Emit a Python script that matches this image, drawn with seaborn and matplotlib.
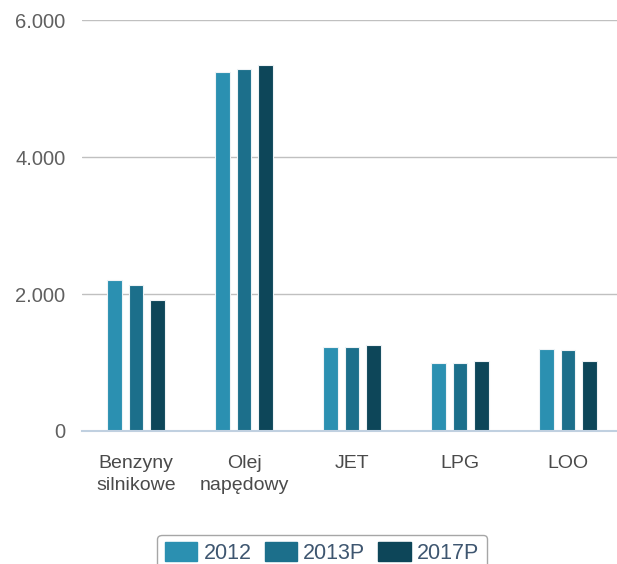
import matplotlib
matplotlib.use("Agg")
import matplotlib.pyplot as plt
import matplotlib.ticker as mticker
from matplotlib.patches import Patch
import pandas as pd
import seaborn as sns

# data
categories = ["Benzyny\nsilnikowe", "Olej\nnapędowy", "JET", "LPG", "LOO"]
series = ["2012", "2013P", "2017P"]
v2012 = [2200, 5240, 1230, 1000, 1200]
v2013p = [2130, 5285, 1230, 1000, 1180]
v2017p = [1910, 5345, 1260, 1015, 1015]
colors = ["#2b90b1", "#1c6f8b", "#0d4659"]

df = pd.DataFrame({
    "cat": categories * 3,
    "year": [s for s in series for _ in categories],
    "val": v2012 + v2013p + v2017p,
})

sns.set_style("white")
plt.rcParams["font.family"] = ["Liberation Sans", "DejaVu Sans"]

fig = plt.figure(figsize=(6.17, 5.64), dpi=100)
ax = fig.add_axes([82 / 617, 1 - 431 / 564, 540 / 617, 411 / 564])

sns.barplot(data=df, x="cat", y="val", hue="year", palette=colors, saturation=1,
            width=0.6, gap=0.32, edgecolor="#eef3f6", linewidth=0.8,
            ax=ax, legend=False, zorder=3)

ax.set_ylim(0, 6000)
ax.set_xlim(-0.5, 4.5)
ax.set_yticks([0, 2000, 4000, 6000])
ax.yaxis.set_major_formatter(mticker.FuncFormatter(lambda v, p: f"{int(v):,}".replace(",", ".")))
ax.grid(axis="y", color="#c0c0c0", linewidth=1, zorder=0)
ax.set_xlabel("")
ax.set_ylabel("")
for s in ["top", "right", "left"]:
    ax.spines[s].set_visible(False)
ax.spines["bottom"].set_color("#c0d0e0")
ax.spines["bottom"].set_linewidth(1.5)
ax.spines["bottom"].set_zorder(4)

ax.tick_params(axis="y", length=0, pad=12, labelsize=14.5, labelcolor="#606060")
ax.tick_params(axis="x", which="major", length=0, pad=17, labelsize=14, labelcolor="#4a4a4a")
ax.set_xticks([0.5, 1.5, 2.5, 3.5], minor=True)
ax.tick_params(axis="x", which="minor", length=7, width=1.2, color="#c0d0e0")
for t in ax.get_xticklabels():
    t.set_linespacing(1.45)

handles = [Patch(facecolor=c, edgecolor=c) for c in colors]
leg = fig.legend(handles, series, loc="upper center", bbox_to_anchor=(0.522, 0.052),
                 ncol=3, frameon=True, fontsize=15.5, handlelength=1.5, handleheight=1.0,
                 handletextpad=0.3, columnspacing=0.6, borderpad=0.35, fancybox=True,
                 borderaxespad=0)
leg.get_frame().set_edgecolor("#909090")
leg.get_frame().set_linewidth(1)
for t in leg.get_texts():
    t.set_color("#3e5670")

fig.savefig("out.png", dpi=100)
